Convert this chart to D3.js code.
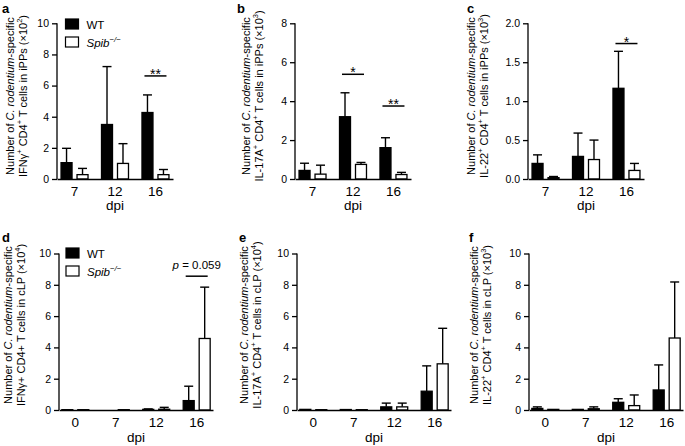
<!DOCTYPE html>
<html><head><meta charset="utf-8">
<script src="https://cdn.jsdelivr.net/npm/d3@7"></script>
<style>
body{margin:0;background:#fff}
svg{display:block}
text{font-family:"Liberation Sans",Arial,Helvetica,sans-serif;fill:#000}
</style>
</head><body>
<svg id="chart" width="685" height="446"></svg>
<script>
// ---------- data ----------
const seriesNames = ["WT", "Spib"];
const dpiTop = ["7", "12", "16"];
const dpiBottom = ["0", "7", "12", "16"];

// panel a: IFNγ+ iPPs (x10^2)
const aWT = [1.05, 3.5, 4.27];
const aWTsd = [0.92, 3.72, 1.13];
const aKO = [0.28, 1.0, 0.28];
const aKOsd = [0.4, 1.27, 0.33];
// panel b: IL-17A+ iPPs (x10^3)
const bWT = [0.44, 3.2, 1.61];
const bWTsd = [0.37, 1.23, 0.51];
const bKO = [0.25, 0.75, 0.23];
const bKOsd = [0.46, 0.1, 0.11];
// panel c: IL-22+ iPPs (x10^3)
const cWT = [0.2, 0.29, 1.165];
const cWTsd = [0.11, 0.3, 0.475];
const cKO = [0.017, 0.25, 0.11];
const cKOsd = [0.015, 0.25, 0.09];
// panel d: IFNγ+ cLP (x10^4)
const dWT = [0.02, 0.0, 0.04, 0.6];
const dWTsd = [0, 0, 0.03, 0.92];
const dKO = [0.02, 0.02, 0.05, 4.57];
const dKOsd = [0, 0, 0.12, 3.28];
// panel e: IL-17A+ cLP (x10^4)
const eWT = [0.04, 0.03, 0.2, 1.2];
const eWTsd = [0, 0, 0.24, 1.62];
const eKO = [0.02, 0.02, 0.2, 2.95];
const eKOsd = [0, 0, 0.24, 2.27];
// panel f: IL-22+ cLP (x10^3)
const fWT = [0.1, 0.04, 0.49, 1.28];
const fWTsd = [0.1, 0, 0.23, 1.6];
const fKO = [0.04, 0.08, 0.28, 4.6];
const fKOsd = [0, 0.12, 0.68, 3.58];

const ticksA = [0, 2, 4, 6, 8, 10];
const ticksB = [0, 2, 4, 6, 8];
const ticksC = [0, 0.5, 1.0, 1.5, 2.0];
const ticksBottom = [0, 2, 4, 6, 8, 10];

const sigA = [{g: "16", y: 6.62, label: "**"}];
const sigB = [{g: "12", y: 5.38, label: "*"}, {g: "16", y: 3.75, label: "**"}];
const sigC = [{g: "16", y: 1.74, label: "*"}];
const sigD = [{g: "16", y: 8.55, label: "p", rest: " = 0.059"}];

// ---------- drawing ----------
const svg = d3.select("#chart");
const FONT_TICK = 10.5, FONT_X = 13.5, FONT_LAB = 11;

function rich(textSel, segs, fs) {
  let sup = false;
  const shift = fs * 0.38;
  segs.forEach(s => {
    const t = textSel.append("tspan").text(s.t);
    if (s.i) t.attr("font-style", "italic");
    if (s.s) {
      t.attr("font-size", fs * 0.68);
      if (!sup) t.attr("dy", -shift);
      sup = true;
    } else if (sup) {
      t.attr("dy", shift);
      sup = false;
    }
  });
}

const line1 = [{t: "Number of "}, {t: "C. rodentium", i: 1}, {t: "-specific"}];

function panel(cfg) {
  const g = svg.append("g");
  const x = d3.scaleBand().domain(cfg.groups).range([cfg.x0, cfg.x1])
    .paddingInner(1 / 3).paddingOuter(cfg.po);
  const xi = d3.scaleBand().domain(seriesNames).range([0, x.bandwidth()]).paddingInner(0.3125);
  const y = d3.scaleLinear().domain([0, cfg.ymax]).range([cfg.yZero, cfg.yTop]);

  const rows = [];
  cfg.groups.forEach((grp, i) => {
    rows.push({g: grp, s: "WT", m: cfg.wt[i], sd: cfg.wtsd[i]});
    rows.push({g: grp, s: "Spib", m: cfg.ko[i], sd: cfg.kosd[i]});
  });

  // error bars
  const cap = 4.5;
  rows.filter(r => r.sd > 0).forEach(r => {
    const cx = x(r.g) + xi(r.s) + xi.bandwidth() / 2;
    g.append("line").attr("x1", cx).attr("x2", cx)
      .attr("y1", y(r.m)).attr("y2", y(r.m + r.sd))
      .attr("stroke", "#000").attr("stroke-width", 1.4);
    g.append("line").attr("x1", cx - cap).attr("x2", cx + cap)
      .attr("y1", y(r.m + r.sd)).attr("y2", y(r.m + r.sd))
      .attr("stroke", "#000").attr("stroke-width", 1.4);
  });
  // bars
  g.selectAll("rect.bar").data(rows).join("rect")
    .attr("x", r => x(r.g) + xi(r.s))
    .attr("width", xi.bandwidth())
    .attr("y", r => y(r.m))
    .attr("height", r => Math.max(0, y(0) - y(r.m)))
    .attr("fill", r => r.s === "WT" ? "#000" : "#fff")
    .attr("stroke", "#000").attr("stroke-width", 1.3);

  // y axis
  const ya = g.append("g").attr("transform", `translate(${cfg.x0},0)`)
    .call(d3.axisLeft(y).tickValues(cfg.ticks).tickSize(5).tickPadding(3)
      .tickFormat(cfg.fmt || d3.format("d")));
  ya.select(".domain").attr("d", `M0,${cfg.yTop}V${cfg.yZero}`).attr("stroke-width", 1.3);
  ya.selectAll(".tick line").attr("stroke-width", 1.3);
  ya.selectAll("text").attr("font-size", FONT_TICK).attr("font-family", null);

  // x axis
  const xa = g.append("g").attr("transform", `translate(0,${cfg.yZero})`)
    .call(d3.axisBottom(x).tickSize(0).tickPadding(7));
  xa.select(".domain").attr("stroke-width", 1.3);
  xa.selectAll("text").attr("font-size", FONT_X).attr("font-family", null);

  g.append("text").attr("x", (cfg.x0 + cfg.x1) / 2).attr("y", cfg.dpiY)
    .attr("text-anchor", "middle").attr("font-size", FONT_X).text("dpi");

  // y label
  const lab = g.append("g").attr("transform", `translate(${cfg.labX},${cfg.labY}) rotate(-90)`);
  rich(lab.append("text").attr("text-anchor", "middle").attr("font-size", FONT_LAB), line1, FONT_LAB);
  rich(lab.append("text").attr("text-anchor", "middle").attr("y", 12.5).attr("font-size", FONT_LAB), cfg.line2, FONT_LAB);

  // panel letter
  g.append("text").attr("x", cfg.lx).attr("y", cfg.ly).attr("font-weight", "bold")
    .attr("font-size", 13).text(cfg.letter);

  // significance
  (cfg.sig || []).forEach(s => {
    const cx = x(s.g) + x.bandwidth() / 2;
    const yy = y(s.y);
    g.append("line").attr("x1", cx - 11).attr("x2", cx + 11).attr("y1", yy).attr("y2", yy)
      .attr("stroke", "#000").attr("stroke-width", 1.5);
    if (s.rest) {
      const t = g.append("text").attr("x", cx).attr("y", yy - 7).attr("text-anchor", "middle").attr("font-size", 11.5);
      t.append("tspan").attr("font-style", "italic").text(s.label);
      t.append("tspan").text(s.rest);
    } else {
      g.append("text").attr("x", cx).attr("y", yy + 3).attr("text-anchor", "middle")
        .attr("font-size", 14).text(s.label);
    }
  });

  // legend
  if (cfg.legend) {
    const L = cfg.legend;
    seriesNames.forEach((s, i) => {
      const yy = L.y + i * 18;
      g.append("rect").attr("x", L.x).attr("y", yy).attr("width", 13).attr("height", 10)
        .attr("fill", s === "WT" ? "#000" : "#fff").attr("stroke", "#000").attr("stroke-width", 1.2);
      const t = g.append("text").attr("x", L.x + 21).attr("y", yy + 9.5).attr("font-size", 11.5);
      if (s === "WT") t.text("WT");
      else rich(t, [{t: "Spib", i: 1}, {t: "−/−", i: 1, s: 1}], 11.5);
    });
  }
}

const topRow = {yTop: 23.3, yZero: 179, po: 0.1, groups: dpiTop, dpiY: 210, labY: 96, ly: 12.5};
const botRow = {yTop: 253.5, yZero: 410, po: 0.07, groups: dpiBottom, dpiY: 442, labY: 325, ly: 242};

panel(Object.assign({}, topRow, {letter: "a", lx: 2, x0: 57, x1: 173, ymax: 10, ticks: ticksA,
  wt: aWT, wtsd: aWTsd, ko: aKO, kosd: aKOsd, sig: sigA, labX: 14, legend: {x: 65.5, y: 19},
  line2: [{t: "IFNγ"}, {t: "+", s: 1}, {t: " CD4"}, {t: "+", s: 1}, {t: " T cells in iPPs (×10"}, {t: "2", s: 1}, {t: ")"}]}));
panel(Object.assign({}, topRow, {letter: "b", lx: 237, x0: 295, x1: 411, ymax: 8, ticks: ticksB,
  wt: bWT, wtsd: bWTsd, ko: bKO, kosd: bKOsd, sig: sigB, labX: 250,
  line2: [{t: "IL-17A"}, {t: "+", s: 1}, {t: " CD4"}, {t: "+", s: 1}, {t: " T cells in iPPs (×10"}, {t: "3", s: 1}, {t: ")"}]}));
panel(Object.assign({}, topRow, {letter: "c", lx: 467, x0: 528, x1: 644, ymax: 2, ticks: ticksC, fmt: d3.format(".1f"),
  wt: cWT, wtsd: cWTsd, ko: cKO, kosd: cKOsd, sig: sigC, labX: 475,
  line2: [{t: "IL-22"}, {t: "+", s: 1}, {t: " CD4"}, {t: "+", s: 1}, {t: " T cells in iPPs (×10"}, {t: "3", s: 1}, {t: ")"}]}));
panel(Object.assign({}, botRow, {letter: "d", lx: 2, x0: 59, x1: 213, ymax: 10, ticks: ticksBottom,
  wt: dWT, wtsd: dWTsd, ko: dKO, kosd: dKOsd, sig: sigD, labX: 12, legend: {x: 66, y: 248},
  line2: [{t: "IFNγ+ CD4+ T cells in cLP (×10"}, {t: "4", s: 1}, {t: ")"}]}));
panel(Object.assign({}, botRow, {letter: "e", lx: 239, x0: 297, x1: 451, ymax: 10, ticks: ticksBottom,
  wt: eWT, wtsd: eWTsd, ko: eKO, kosd: eKOsd, labX: 248,
  line2: [{t: "IL-17A"}, {t: "+", s: 1}, {t: " CD4"}, {t: "+", s: 1}, {t: " T cells in cLP (×10"}, {t: "4", s: 1}, {t: ")"}]}));
panel(Object.assign({}, botRow, {letter: "f", lx: 469, x0: 529, x1: 683, ymax: 10, ticks: ticksBottom,
  wt: fWT, wtsd: fWTsd, ko: fKO, kosd: fKOsd, labX: 478,
  line2: [{t: "IL-22"}, {t: "+", s: 1}, {t: " CD4"}, {t: "+", s: 1}, {t: " T cells in cLP (×10"}, {t: "3", s: 1}, {t: ")"}]}));
</script>
</body></html>
